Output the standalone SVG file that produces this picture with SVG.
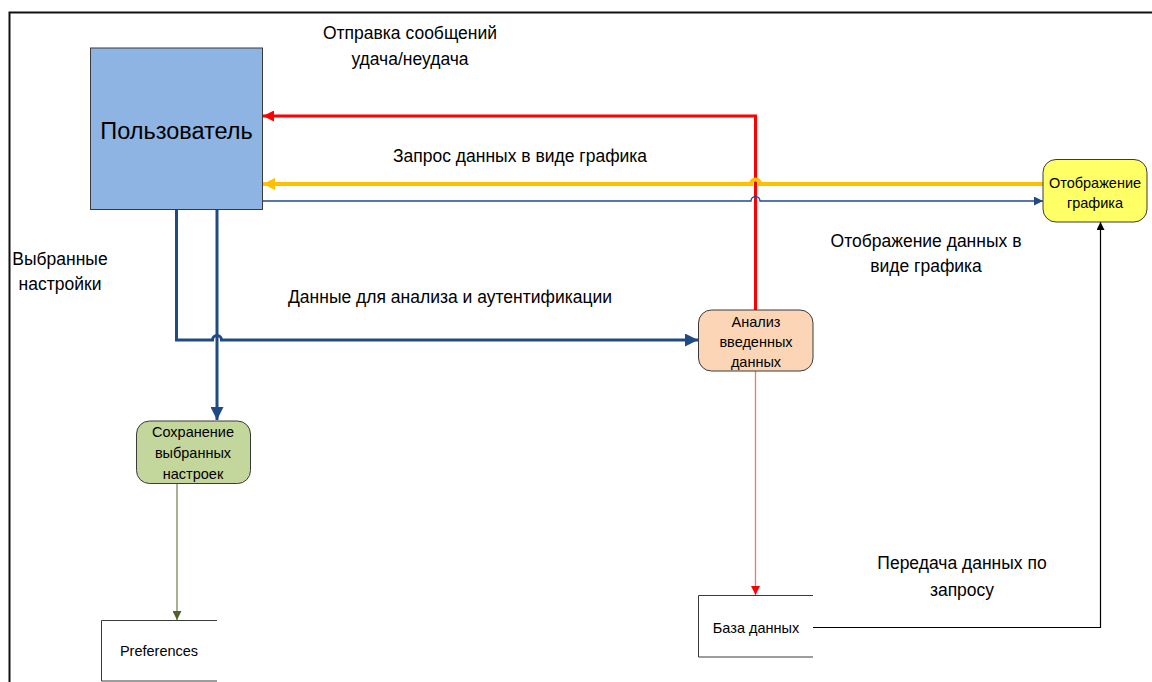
<svg xmlns="http://www.w3.org/2000/svg" width="1152" height="682" viewBox="0 0 1152 682">
  <style>
    text { font-family: "Liberation Sans", Arial, sans-serif; fill: #000; }
    .lbl { font-size: 17.5px; text-anchor: middle; }
    .nd { font-size: 14.5px; text-anchor: middle; }
    .node { stroke: #3a3a3a; stroke-width: 1; }
    .store { fill: none; stroke: #3a3a3a; stroke-width: 1; }
    .conn { fill: none; }
  </style>
  <defs>
    <marker id="mRed" viewBox="0 0 10 10" refX="10" refY="5" markerUnits="userSpaceOnUse" markerWidth="18" markerHeight="11" orient="auto">
      <path d="M0,0 L10,5 L0,10 z" fill="#FF0000"/>
    </marker>
    <marker id="mRedThin" viewBox="0 0 10 10" refX="10" refY="5" markerUnits="userSpaceOnUse" markerWidth="13" markerHeight="9" orient="auto">
      <path d="M0,0 L10,5 L0,10 z" fill="#FF0000"/>
    </marker>
    <marker id="mYellow" viewBox="0 0 10 10" refX="10" refY="5" markerUnits="userSpaceOnUse" markerWidth="20" markerHeight="12" orient="auto">
      <path d="M0,0 L10,5 L0,10 z" fill="#FFC000"/>
    </marker>
    <marker id="mBlue" viewBox="0 0 10 10" refX="10" refY="5" markerUnits="userSpaceOnUse" markerWidth="18" markerHeight="13" orient="auto">
      <path d="M0,0 L10,5 L0,10 z" fill="#1F4A86"/>
    </marker>
    <marker id="mBlueThin" viewBox="0 0 10 10" refX="10" refY="5" markerUnits="userSpaceOnUse" markerWidth="13" markerHeight="9" orient="auto">
      <path d="M0,0 L10,5 L0,10 z" fill="#1F4A86"/>
    </marker>
    <marker id="mBlack" viewBox="0 0 10 10" refX="10" refY="5" markerUnits="userSpaceOnUse" markerWidth="12" markerHeight="8" orient="auto">
      <path d="M0,0 L10,5 L0,10 z" fill="#000"/>
    </marker>
    <marker id="mGreen" viewBox="0 0 10 10" refX="10" refY="5" markerUnits="userSpaceOnUse" markerWidth="13" markerHeight="9" orient="auto">
      <path d="M0,0 L10,5 L0,10 z" fill="#4F6228"/>
    </marker>
  </defs>

  <rect width="1152" height="682" fill="#fff"/>
  <!-- page frame -->
  <rect x="9.5" y="12.5" width="1200" height="720" fill="none" stroke="#111" stroke-width="2"/>

  <!-- connectors -->
  <g id="connectors" class="conn">
    <!-- analysis -> user (red) -->
    <path d="M755.5,310 L755.5,116 L263,116" stroke="#FF0000" stroke-width="3" marker-end="url(#mRed)"/>
    <!-- graph display -> user (yellow), hops over red line -->
    <path d="M1043,184 L760,184 A4.5,4.5 0 0 0 751,184 L263,184" stroke="#FFC000" stroke-width="4" marker-end="url(#mYellow)"/>
    <!-- user -> graph display (thin blue), hops over red line -->
    <path d="M263,201 L751,201 A4.5,4.5 0 0 1 760,201 L1043,201" stroke="#1F4A86" stroke-width="1.3" marker-end="url(#mBlueThin)"/>
    <!-- user -> analysis (blue), hops over the settings line -->
    <path d="M176.5,209 L176.5,340 L212.5,340 A4.5,4.5 0 0 1 221.5,340 L698,340" stroke="#1F4A86" stroke-width="3" marker-end="url(#mBlue)"/>
    <!-- user -> save settings (blue) -->
    <path d="M217,209 L217,420" stroke="#1F4A86" stroke-width="3" marker-end="url(#mBlue)"/>
    <!-- analysis -> database (light red) -->
    <path d="M755.5,371 L755.5,595" stroke="#FF7070" stroke-width="1.3" marker-end="url(#mRedThin)"/>
    <!-- database -> graph display (black) -->
    <path d="M813,627.5 L1100.5,627.5 L1100.5,222" stroke="#000" stroke-width="1.2" marker-end="url(#mBlack)"/>
    <!-- save settings -> preferences (green) -->
    <path d="M177,484 L177,620" stroke="#4F6228" stroke-width="1" marker-end="url(#mGreen)"/>
  </g>

  <!-- connector labels -->
  <g id="labels">
    <text class="lbl" x="410" y="39">Отправка сообщений</text>
    <text class="lbl" x="410" y="65">удача/неудача</text>
    <text class="lbl" x="520" y="162">Запрос данных в виде графика</text>
    <text class="lbl" x="926" y="247">Отображение данных в</text>
    <text class="lbl" x="926" y="272">виде графика</text>
    <text class="lbl" x="60" y="265">Выбранные</text>
    <text class="lbl" x="60" y="290">настройки</text>
    <text class="lbl" x="450" y="303">Данные для анализа и аутентификации</text>
    <text class="lbl" x="962" y="569">Передача данных по</text>
    <text class="lbl" x="962" y="596">запросу</text>
  </g>

  <!-- nodes -->
  <g id="user">
    <rect class="node" x="90.5" y="48" width="172" height="161.5" fill="#8EB4E3"/>
    <text x="176.5" y="139" font-size="23.5" text-anchor="middle">Пользователь</text>
  </g>
  <g id="graph-display">
    <rect class="node" x="1043" y="159.5" width="104" height="62.5" rx="13" fill="#FFFF66"/>
    <text class="nd" x="1095" y="188">Отображение</text>
    <text class="nd" x="1095" y="208">графика</text>
  </g>
  <g id="analysis">
    <rect class="node" x="698.5" y="310" width="114.5" height="61" rx="13" fill="#FBD5B5"/>
    <text class="nd" x="756" y="327">Анализ</text>
    <text class="nd" x="756" y="347">введенных</text>
    <text class="nd" x="756" y="367">данных</text>
  </g>
  <g id="save-settings">
    <rect class="node" x="136.5" y="421" width="114" height="62.5" rx="13" fill="#C3D69B"/>
    <text class="nd" x="193" y="437">Сохранение</text>
    <text class="nd" x="193" y="458">выбранных</text>
    <text class="nd" x="193" y="479">настроек</text>
  </g>
  <g id="database">
    <path class="store" d="M813,595.5 L698.5,595.5 L698.5,657 L813,657"/>
    <text x="756" y="633" font-size="14.5" text-anchor="middle">База данных</text>
  </g>
  <g id="preferences">
    <path class="store" d="M217,620.5 L101.5,620.5 L101.5,681 L217,681"/>
    <text x="159" y="656" font-size="14.5" text-anchor="middle">Preferences</text>
  </g>
</svg>
